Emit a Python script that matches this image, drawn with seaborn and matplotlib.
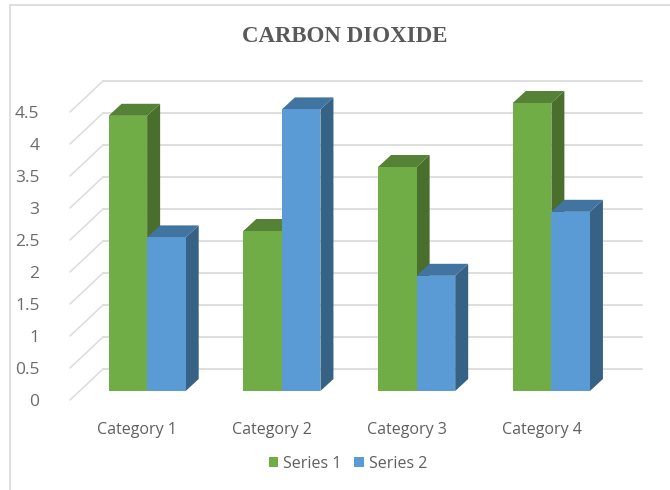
import matplotlib
matplotlib.use("Agg")
import matplotlib.pyplot as plt
from matplotlib.transforms import ScaledTranslation
import pandas as pd
import seaborn as sns

categories = ["Category 1", "Category 2", "Category 3", "Category 4"]
series_1 = [4.3, 2.5, 3.5, 4.5]
series_2 = [2.4, 4.4, 1.8, 2.8]
ticks = [0, 0.5, 1, 1.5, 2, 2.5, 3, 3.5, 4, 4.5]
tick_labels = ["0", "0.5", "1", "1.5", "2", "2.5", "3", "3.5", "4", "4.5"]

df = pd.DataFrame({
    "category": categories * 2,
    "value": series_1 + series_2,
    "series": ["Series 1"] * 4 + ["Series 2"] * 4,
})

sns.set_theme(style="white")
plt.rcParams['font.family'] = ['Liberation Sans Narrow', 'Open Sans', 'DejaVu Sans']

W, H = 670, 490
fig = plt.figure(figsize=(W / 100, H / 100), dpi=100)
# axes box is the plane of the bar fronts
ax = fig.add_axes([79.75 / W, (H - 391) / H, 539 / W, 288 / H])

front_cols = {"Series 1": "#70AD47", "Series 2": "#5B9BD5"}
sns.barplot(data=df, x="category", y="value", hue="series", palette=front_cols,
            width=0.5725, saturation=1, ax=ax, zorder=3, linewidth=0)
ax.set_xlim(-0.5, 3.5)
ax.set_ylim(0, 4.5)

# pixel sizes to data units for the fake 3d
px_x = 4 / 539
px_y = 4.5 / 288

side_cols = ["#4A6E2B", "#366285"]
top_cols = ["#558235", "#4274A1"]
depth_x, depth_y = 13 * px_x, 12 * px_y
for k, cont in enumerate(ax.containers):
    for bar in cont:
        x0, x1 = bar.get_x(), bar.get_x() + bar.get_width()
        h = bar.get_height()
        ax.fill([x1, x1 + depth_x, x1 + depth_x, x1], [0, depth_y, h + depth_y, h],
                color=side_cols[k], lw=0, zorder=2 + k * 0.2, clip_on=False)
        ax.fill([x0, x0 + depth_x, x1 + depth_x, x1], [h, h + depth_y, h + depth_y, h],
                color=top_cols[k], lw=0, zorder=2 + k * 0.2, clip_on=False)

# back wall and floor lines
back_x, back_y = 23.25 * px_x, 22 * px_y
front_x, front_y = -9.75 * px_x, -9 * px_y
grid_col = "#D9D9D9"
for t in ticks:
    ax.plot([-0.5 + back_x, 3.5 + back_x], [t + back_y, t + back_y], color=grid_col,
            lw=1.2, zorder=1, clip_on=False)
    ax.plot([-0.5 + front_x, -0.5 + back_x], [t + front_y, t + back_y], color=grid_col,
            lw=1.0, zorder=1, clip_on=False)

ax.set_yticks(ticks)
ax.set_yticklabels(tick_labels)
ax.set_xlabel("")
ax.set_ylabel("")
ax.tick_params(axis="y", length=0, pad=22, labelsize=12.5, labelcolor="#6B6B6B")
ax.tick_params(axis="x", length=0, pad=16, labelsize=11.5, labelcolor="#5F5F5F")
sns.despine(ax=ax, left=True, bottom=True)

# labels belong to the front plane, not the bar plane
shift = ScaledTranslation(-9.75 / 100, -9 / 100, fig.dpi_scale_trans)
for lab in ax.get_xticklabels() + ax.get_yticklabels():
    lab.set_transform(lab.get_transform() + shift)

handles, labels = ax.get_legend_handles_labels()
ax.legend_.remove()
fig.legend(handles, labels, loc="center", bbox_to_anchor=(348 / W, 1 - 464 / H), ncol=2,
           frameon=False, fontsize=11.5, labelcolor="#5F5F5F", handlelength=0.6,
           handleheight=0.6, handletextpad=0.3, columnspacing=0.8)

fig.text(345 / W, 1 - 37 / H, "CARBON DIOXIDE", ha="center", va="center", color="#595959",
         family="Liberation Serif", weight="bold", fontsize=16.5)

# chart frame, top and left only
fig.add_artist(plt.Line2D([10 / W, 10 / W], [0, 1 - 5.5 / H], color=grid_col, lw=1.2))
fig.add_artist(plt.Line2D([10 / W, 1], [1 - 5.5 / H, 1 - 5.5 / H], color=grid_col, lw=1.2))

fig.savefig("out.png", dpi=100)
